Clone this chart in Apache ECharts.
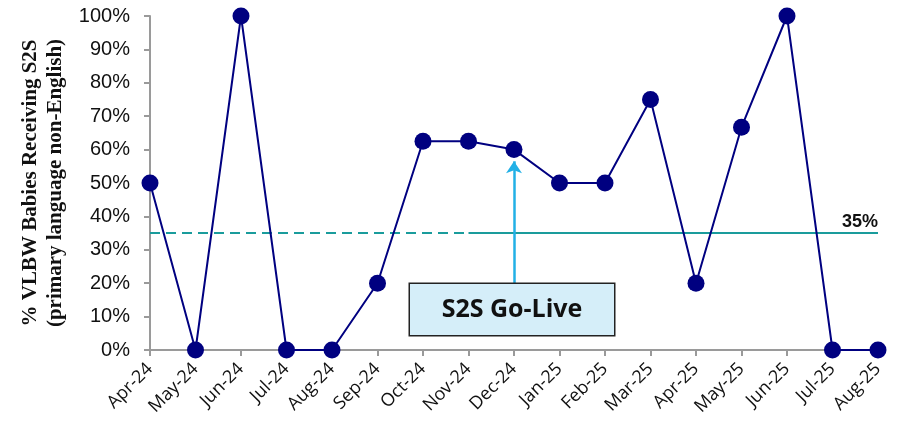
<!DOCTYPE html>
<html>
<head>
<meta charset="utf-8">
<script src="https://cdn.jsdelivr.net/npm/echarts@6/dist/echarts.min.js"></script>
<style>
  html, body { margin: 0; padding: 0; background: #fff; }
  #chart { width: 899px; height: 428px; }
</style>
</head>
<body>
<div id="chart"></div>
<script>
// months on the x axis
const months = ['Apr-24', 'May-24', 'Jun-24', 'Jul-24', 'Aug-24', 'Sep-24', 'Oct-24', 'Nov-24',
  'Dec-24', 'Jan-25', 'Feb-25', 'Mar-25', 'Apr-25', 'May-25', 'Jun-25', 'Jul-25', 'Aug-25']

// % VLBW babies receiving S2S
const s2sRate = [50, 0, 100, 0, 0, 20, 62.5, 62.5, 60, 50, 50, 75, 20, 66.7, 100, 0, 0]

// target line and go-live annotation
const target = 35
const goLiveMonth = 'Dec-24'
const goLiveText = 'S2S Go-Live'

const navy = '#000080'
const teal = '#1a9c9c'
const axisGray = '#9a9a9a'

const myChart = echarts.init(document.getElementById('chart'))
myChart.setOption({
  animation: false,
  grid: { left: 150, right: 21, top: 16, bottom: 78, outerBoundsMode: 'none', containLabel: false },
  xAxis: {
    type: 'category',
    data: months,
    boundaryGap: false,
    axisLine: { lineStyle: { color: axisGray, width: 2 } },
    axisTick: { alignWithLabel: true, length: 6, lineStyle: { color: axisGray, width: 2 } },
    axisLabel: {
      rotate: 45,
      interval: 0,
      margin: 16,
      fontSize: 18,
      fontFamily: 'Open Sans',
      color: '#111'
    }
  },
  yAxis: {
    type: 'value',
    min: 0,
    max: 100,
    interval: 10,
    name: '% VLBW Babies Receiving S2S\n(primary language non-English)',
    nameLocation: 'middle',
    nameRotate: 90,
    nameGap: 80,
    nameTextStyle: {
      fontFamily: 'Liberation Serif',
      fontWeight: 'bold',
      fontSize: 21,
      lineHeight: 25,
      color: '#111'
    },
    splitLine: { show: false },
    axisLine: { show: true, lineStyle: { color: axisGray, width: 2 } },
    axisTick: { show: true, length: 6, lineStyle: { color: axisGray, width: 2 } },
    axisLabel: {
      formatter: '{value}%',
      margin: 20,
      fontSize: 20,
      fontFamily: 'Liberation Sans',
      color: '#111'
    }
  },
  series: [
    {
      type: 'line',
      data: s2sRate,
      symbol: 'circle',
      symbolSize: 17,
      lineStyle: { color: navy, width: 2 },
      itemStyle: { color: navy },
      z: 5,
      markLine: {
        silent: true,
        symbol: 'none',
        data: [
          [
            { coord: [months[0], target], lineStyle: { type: [10, 6], color: teal, width: 2 } },
            { coord: ['Nov-24', target] }
          ],
          [
            { coord: ['Nov-24', target], lineStyle: { type: 'solid', color: teal, width: 2 } },
            {
              coord: [months[months.length - 1], target],
              label: {
                show: true,
                position: 'insideEndTop',
                formatter: target + '%',
                fontFamily: 'Liberation Sans',
                fontWeight: 'bold',
                fontSize: 18,
                color: '#111',
                distance: [0, 2]
              }
            }
          ]
        ],
        label: { show: false }
      }
    },
    {
      type: 'line',
      data: [],
      z: 4,
      markLine: {
        silent: true,
        symbol: ['none', 'arrow'],
        symbolSize: 12,
        lineStyle: { color: '#22b0e6', width: 2.5, type: 'solid' },
        label: { show: false },
        data: [[{ coord: [goLiveMonth, 20] }, { coord: [goLiveMonth, 56.5] }]]
      },
      markPoint: {
        silent: true,
        symbol: 'circle',
        symbolSize: 0,
        label: {
          show: true,
          position: 'inside',
          offset: [-2, 0],
          formatter: goLiveText,
          fontFamily: 'Open Sans',
          fontWeight: 'bold',
          fontSize: 25,
          color: '#111',
          backgroundColor: '#d5eef9',
          borderColor: '#222',
          borderWidth: 1.5,
          width: 204,
          height: 51,
          lineHeight: 51,
          align: 'center',
          verticalAlign: 'middle'
        },
        data: [{ coord: [goLiveMonth, 12.1] }]
      }
    }
  ]
})
</script>
</body>
</html>
